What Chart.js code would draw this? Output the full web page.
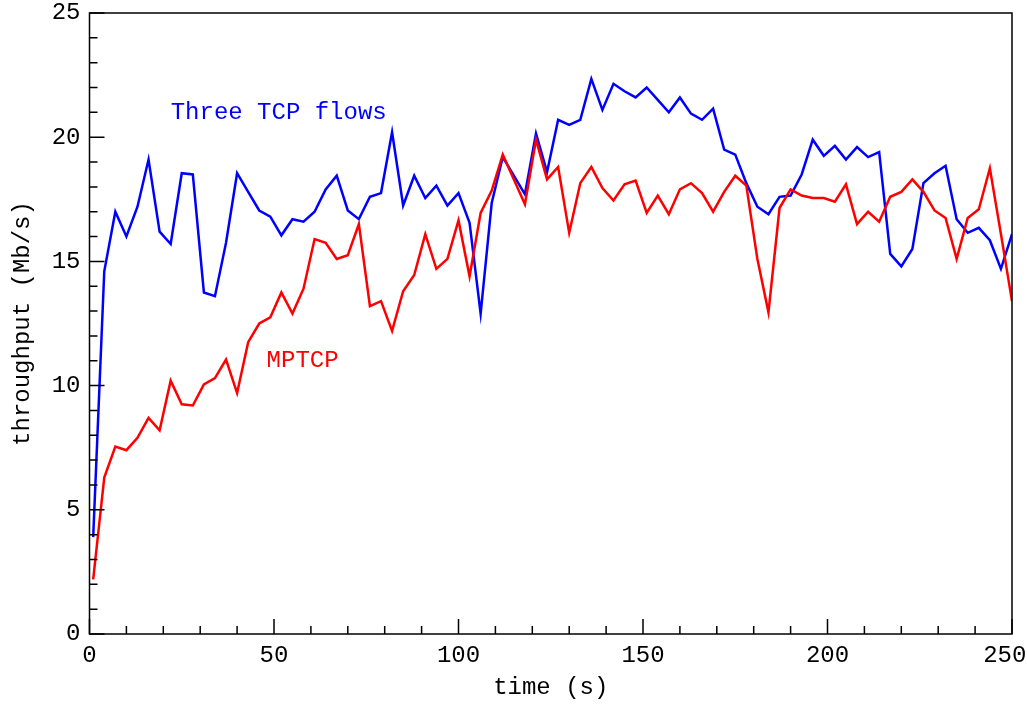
<!DOCTYPE html>
<html>
<head>
<meta charset="utf-8">
<script src="https://cdn.jsdelivr.net/npm/chart.js@4/dist/chart.umd.min.js"></script>
<style>
    html, body { margin: 0; padding: 0; background: #fff; }
    #wrap { width: 1027px; height: 704px; }
</style>
</head>
<body>
<div id="wrap"><canvas id="throughput"></canvas></div>
<script>
// time of each sample (s)
const times = [1, 4, 7, 10, 13, 16, 19, 22, 25, 28, 31, 34, 37, 40, 43, 46, 49, 52, 55, 58,
    61, 64, 67, 70, 73, 76, 79, 82, 85, 88, 91, 94, 97, 100, 103, 106, 109, 112, 115, 118,
    121, 124, 127, 130, 133, 136, 139, 142, 145, 148, 151, 154, 157, 160, 163, 166, 169, 172, 175, 178,
    181, 184, 187, 190, 193, 196, 199, 202, 205, 208, 211, 214, 217, 220, 223, 226, 229, 232, 235, 238,
    241, 244, 247, 250];

// throughput (Mb/s), three TCP flows
const tcpFlows = [3.9, 14.6, 17.0, 16.0, 17.2, 19.1, 16.2, 15.7, 18.55, 18.5,
    13.75, 13.6, 15.75, 18.55, 17.8, 17.05, 16.8, 16.05, 16.7, 16.6,
    17.0, 17.9, 18.45, 17.05, 16.7, 17.6, 17.75, 20.2, 17.25, 18.45,
    17.55, 18.05, 17.25, 17.75, 16.55, 12.9, 17.35, 19.2, 18.45, 17.7,
    20.15, 18.6, 20.7, 20.5, 20.7, 22.35, 21.1, 22.15, 21.85, 21.6,
    22.0, 21.5, 21.0, 21.6, 20.95, 20.7, 21.15, 19.5, 19.3, 18.15,
    17.2, 16.9, 17.6, 17.65, 18.5, 19.9, 19.25, 19.65, 19.1, 19.6,
    19.2, 19.4, 15.3, 14.8, 15.5, 18.15, 18.55, 18.85, 16.7, 16.15,
    16.35, 15.85, 14.7, 16.1];

// throughput (Mb/s), MPTCP
const mptcp = [2.2, 6.3, 7.55, 7.4, 7.9, 8.7, 8.2, 10.2, 9.25, 9.2,
    10.05, 10.3, 11.05, 9.7, 11.75, 12.5, 12.75, 13.75, 12.9, 13.9,
    15.9, 15.75, 15.1, 15.25, 16.5, 13.2, 13.4, 12.2, 13.8, 14.45,
    16.1, 14.7, 15.1, 16.65, 14.4, 16.95, 17.85, 19.3, 18.3, 17.3,
    19.9, 18.3, 18.8, 16.15, 18.15, 18.8, 17.95, 17.45, 18.1, 18.25,
    16.95, 17.65, 16.9, 17.9, 18.15, 17.75, 17.0, 17.8, 18.45, 18.05,
    15.1, 12.95, 17.15, 17.9, 17.65, 17.55, 17.55, 17.4, 18.1, 16.5,
    17.0, 16.6, 17.6, 17.8, 18.3, 17.8, 17.05, 16.75, 15.1, 16.75,
    17.1, 18.75, 16.1, 13.4];

// in-plot labels: [text, colour, time, throughput]
const labels = [
    ['Three TCP flows', '#0000ff', 22, 21],
    ['MPTCP', '#ff0000', 48, 11]
];

const FONT = "'Liberation Mono', 'DejaVu Sans Mono', monospace";
Chart.defaults.font.family = FONT;
Chart.defaults.font.size = 24;
Chart.defaults.color = '#000';

function toPoints(ys) {
    return times.map((t, i) => ({ x: t, y: ys[i] }));
}

// frame, inward ticks and in-plot labels
const framePlugin = {
    id: 'frame',
    afterDraw(chart) {
        const ctx = chart.ctx;
        const area = chart.chartArea;
        const xs = chart.scales.x;
        const ys = chart.scales.y;
        ctx.save();
        ctx.strokeStyle = '#000';
        ctx.lineWidth = 1.5;
        ctx.strokeRect(area.left, area.top, area.right - area.left, area.bottom - area.top);
        ctx.beginPath();
        for (let v = 0; v <= 25; v++) {
            const py = ys.getPixelForValue(v);
            const len = v % 5 === 0 ? 15 : 8;
            ctx.moveTo(area.left, py);
            ctx.lineTo(area.left + len, py);
        }
        for (let v = 0; v <= 250; v += 10) {
            const px = xs.getPixelForValue(v);
            const len = v % 50 === 0 ? 15 : 8;
            ctx.moveTo(px, area.bottom);
            ctx.lineTo(px, area.bottom - len);
        }
        ctx.stroke();

        ctx.font = '24px ' + FONT;
        ctx.textAlign = 'left';
        ctx.textBaseline = 'middle';
        labels.forEach(([text, colour, t, v]) => {
            ctx.fillStyle = colour;
            ctx.fillText(text, xs.getPixelForValue(t), ys.getPixelForValue(v));
        });
        ctx.restore();
    }
};

const ctx = document.getElementById('throughput').getContext('2d');
const chart = new Chart(ctx, {
    type: 'line',
    data: {
        datasets: [{
            label: 'MPTCP',
            data: toPoints(mptcp),
            borderColor: '#ff0000',
            borderWidth: 2.5,
            pointRadius: 0,
            tension: 0,
            fill: false
        }, {
            label: 'Three TCP flows',
            data: toPoints(tcpFlows),
            borderColor: '#0000ff',
            borderWidth: 2.5,
            pointRadius: 0,
            tension: 0,
            fill: false
        }]
    },
    options: {
        responsive: true,
        maintainAspectRatio: false,
        animation: false,
        layout: {
            padding: { top: 13, right: 15, left: 0, bottom: 0 }
        },
        plugins: {
            legend: { display: false },
            tooltip: { enabled: false }
        },
        scales: {
            x: {
                type: 'linear',
                min: 0,
                max: 250,
                grid: { display: false, drawTicks: false },
                border: { display: false },
                ticks: {
                    stepSize: 50,
                    padding: 7,
                    maxRotation: 0,
                    autoSkip: false,
                    // keep the last label inside the page
                    callback: (v) => v === 250 ? '250 ' : String(v)
                },
                title: {
                    display: true,
                    text: 'time (s)',
                    padding: { top: 0, bottom: 2 }
                },
                afterFit(scale) {
                    scale.height = 70;
                    scale.paddingLeft = 0;
                    scale.paddingRight = 0;
                }
            },
            y: {
                min: 0,
                max: 25,
                grid: { display: false, drawTicks: false },
                border: { display: false },
                ticks: { stepSize: 5, padding: 9 },
                title: {
                    display: true,
                    text: 'throughput (Mb/s)',
                    padding: { top: 8, bottom: 0 }
                },
                afterFit(scale) {
                    scale.width = 89.5;
                    scale.paddingTop = 0;
                    scale.paddingBottom = 0;
                }
            }
        }
    },
    plugins: [framePlugin]
});
</script>
</body>
</html>
